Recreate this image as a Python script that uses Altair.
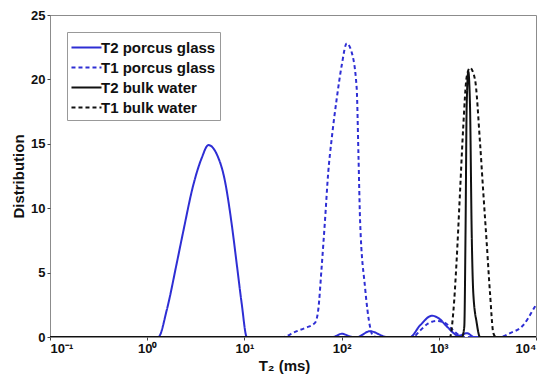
import altair as alt
import pandas as pd

series_names = ["T2 porcus glass", "T1 porcus glass", "T2 bulk water", "T1 bulk water"]
series_colors = ["#2e2ed4", "#2e2ed4", "#111111", "#111111"]
series_dashes = [[1, 0], [4, 3], [1, 0], [4, 3]]

x_tick_values = [0.1, 1, 10, 100, 1000, 10000]
x_tick_labels = ["10⁻¹", "10⁰", "10¹", "10²", "10³", "10⁴"]
y_tick_values = [0, 5, 10, 15, 20, 25]

# T2 porous glass (blue solid)
t2_glass_x = [0.1, 1.30, 1.59, 2.01, 2.35, 2.98, 3.64, 4.26, 5.19, 6.31, 7.39, 8.33, 9.38, 10.6,
              81.5, 100, 131, 144, 196, 293, 506, 641, 851, 1000, 1216, 1600, 1950, 2300, 10000]
t2_glass_y = [0, 0, 2.1, 5.7, 8.2, 11.8, 13.9, 14.9, 14.2, 12.1, 8.8, 5.7, 2.6, 0,
              0, 0.25, 0, 0, 0.45, 0, 0, 0.9, 1.65, 1.45, 0.8, 0.1, 0.3, 0, 0]

# T1 porous glass (blue dashed)
t1_glass_x = [0.1, 24.9, 33.2, 42.0, 53.2, 57.5, 62.3, 67.4, 72.9, 79.1, 89.1, 100.3, 113, 127,
              143, 149, 155, 174, 196, 210, 226, 543, 641, 780, 952, 1160, 1369, 1652, 1862,
              4267, 5407, 7350, 9312, 10000]
t1_glass_y = [0, 0, 0.4, 0.7, 1.1, 2.1, 5.4, 9.0, 12.8, 15.4, 18.5, 21.1, 22.8, 22.1,
              19.3, 14.2, 9.0, 3.9, 0.8, 0.1, 0, 0, 0.5, 1.05, 1.25, 1.1, 0.6, 0.1, 0,
              0, 0.3, 0.9, 2.1, 2.5]

# T2 bulk water (black solid)
t2_water_x = [0.1, 1733, 1829, 1883, 1936, 2012, 2094, 2181, 2264, 2454, 2654, 10000]
t2_water_y = [0, 0, 0.8, 8.0, 18.0, 20.6, 18.0, 8.0, 3.4, 1.1, 0, 0]

# T1 bulk water (black dashed)
t1_water_x = [0.1, 1303, 1409, 1527, 1652, 1787, 1936, 2094, 2356, 2654, 2870, 3111, 3365, 3640,
              3875, 10000]
t1_water_y = [0, 0, 1.9, 6.0, 11.2, 16.4, 20.2, 20.9, 20.0, 15.1, 11.2, 7.3, 3.4, 0.3,
              0, 0]

rows = []
for name, xs, ys in zip(series_names,
                        [t2_glass_x, t1_glass_x, t2_water_x, t1_water_x],
                        [t2_glass_y, t1_glass_y, t2_water_y, t1_water_y]):
    for i, (xv, yv) in enumerate(zip(xs, ys)):
        rows.append({"series": name, "T": xv, "D": yv, "idx": i})
df = pd.DataFrame(rows)

label_expr = "[" + ",".join("'" + s + "'" for s in x_tick_labels) + "][round(log(datum.value)/LN10)+1]"

legend = alt.Legend(
    title=None,
    orient="none",
    legendX=17,
    legendY=17,
    symbolType="M-1.43,0H1.43",
    symbolSize=441,
    symbolStrokeWidth=2,
    symbolOffset=4,
    labelFontSize=15,
    labelFontWeight="bold",
    labelFont="Liberation Sans",
    labelColor="#111111",
    labelOffset=3,
    fillColor="white",
    strokeColor="#999999",
    padding=4,
    rowPadding=0,
)

chart = alt.Chart(df).mark_line(strokeWidth=2, clip=True, interpolate="monotone").encode(
    x=alt.X("T:Q",
            scale=alt.Scale(type="log", domain=[0.1, 10000], nice=False),
            axis=alt.Axis(values=x_tick_values, labelExpr=label_expr, title="T₂ (ms)",
                          titlePadding=3, titleX=234, titleAlign="center")),
    y=alt.Y("D:Q",
            scale=alt.Scale(domain=[0, 25], nice=False),
            axis=alt.Axis(values=y_tick_values, title="Distribution", titlePadding=4)),
    color=alt.Color("series:N", scale=alt.Scale(domain=series_names, range=series_colors),
                    legend=legend),
    strokeDash=alt.StrokeDash("series:N", scale=alt.Scale(domain=series_names, range=series_dashes),
                              legend=legend),
    order="idx:Q",
).properties(
    width=486,
    height=322,
    padding={"left": 50, "top": 15, "right": 7, "bottom": 45},
    autosize=alt.AutoSizeParams(type="none"),
    background="white",
).configure_view(
    stroke="#8c8c8c",
    strokeWidth=1,
).configure_axis(
    domain=False,
    grid=False,
    ticks=True,
    tickSize=3,
    tickColor="#444444",
    labelFont="Liberation Sans",
    labelFontSize=13,
    labelFontWeight="bold",
    labelColor="#111111",
    labelPadding=2,
    titleFont="Liberation Sans",
    titleFontSize=15,
    titleFontWeight="bold",
    titleColor="#111111",
)

chart.save("out.html", embed_options={"renderer": "svg", "actions": False})
